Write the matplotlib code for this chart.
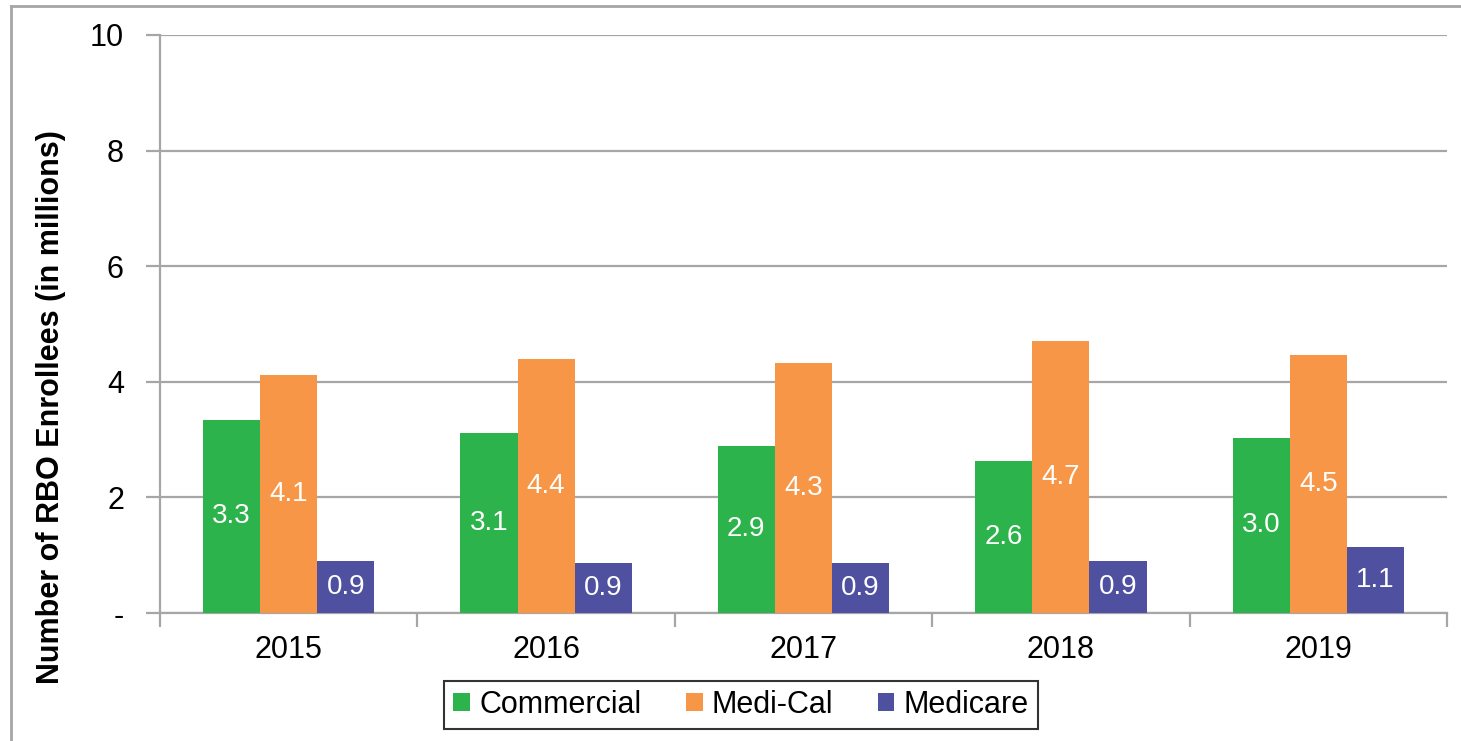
import matplotlib
matplotlib.use("Agg")
import matplotlib.pyplot as plt
import numpy as np
from matplotlib.lines import Line2D

years = ["2015", "2016", "2017", "2018", "2019"]
commercial = [3.34, 3.11, 2.89, 2.63, 3.03]
medi_cal = [4.12, 4.39, 4.33, 4.71, 4.46]
medicare = [0.90, 0.87, 0.87, 0.90, 1.14]
series_names = ["Commercial", "Medi-Cal", "Medicare"]
colors = ["#2db34b", "#f79646", "#4f51a0"]
ytick_vals = [0, 2, 4, 6, 8, 10]
ytick_labels = ["-", "2", "4", "6", "8", "10"]

plt.rcParams['font.family'] = ['Liberation Sans', 'DejaVu Sans']

fig = plt.figure(figsize=(14.61, 7.41), dpi=100)
ax = fig.add_axes([160/1461, 1 - 613/741, (1447-160)/1461, (613-35)/741])

x = np.arange(len(years))
bw = 0.222
series = [commercial, medi_cal, medicare]
for i, (vals, name, c) in enumerate(zip(series, series_names, colors)):
    pos = x + (i - 1) * bw
    ax.bar(pos, vals, width=bw, color=c, label=name, zorder=3)
    for p, v in zip(pos, vals):
        ax.text(p, v / 2, f"{v:.1f}", ha="center", va="center", color="white",
                fontsize=20, zorder=4)

ax.set_xlim(-0.5, len(years) - 0.5)
ax.set_ylim(0, 10)
ax.set_yticks(ytick_vals)
ax.set_yticklabels(ytick_labels)
ax.yaxis.grid(True, color="#a6a6a6", linewidth=1.6, zorder=0)
ax.tick_params(axis="y", length=10, width=1.6, color="#a6a6a6", labelsize=22, pad=16)

ax.set_xticks(np.arange(len(years) + 1) - 0.5)
ax.set_xticklabels([])
ax.set_xticks(x, minor=True)
ax.set_xticklabels(years, minor=True)
ax.tick_params(axis="x", which="major", length=10, width=1.6, color="#a6a6a6")
ax.tick_params(axis="x", which="minor", length=0, labelsize=22, pad=16)

for s in ["top", "right"]:
    ax.spines[s].set_visible(False)
for s in ["left", "bottom"]:
    ax.spines[s].set_color("#a6a6a6")
    ax.spines[s].set_linewidth(1.6)

ax.set_ylabel("Number of RBO Enrollees (in millions)", fontsize=22, fontweight="bold")
ax.yaxis.set_label_coords(-0.073, 0.356)

leg = fig.legend(loc="center", bbox_to_anchor=(741/1461, 1 - 705/741), ncol=3, fontsize=22,
                 frameon=True, fancybox=False, edgecolor="black", handlelength=0.55,
                 handleheight=0.55, handletextpad=0.3, columnspacing=1.45, borderpad=0.3)
leg.get_frame().set_linewidth(1.5)

# outer border (top and left visible)
fig.add_artist(Line2D([11/1461, 11/1461], [0, 1 - 6/741], transform=fig.transFigure,
                      color="#a6a6a6", linewidth=2))
fig.add_artist(Line2D([11/1461, 1], [1 - 6/741, 1 - 6/741], transform=fig.transFigure,
                      color="#a6a6a6", linewidth=2))

fig.savefig("out.png", dpi=100)
